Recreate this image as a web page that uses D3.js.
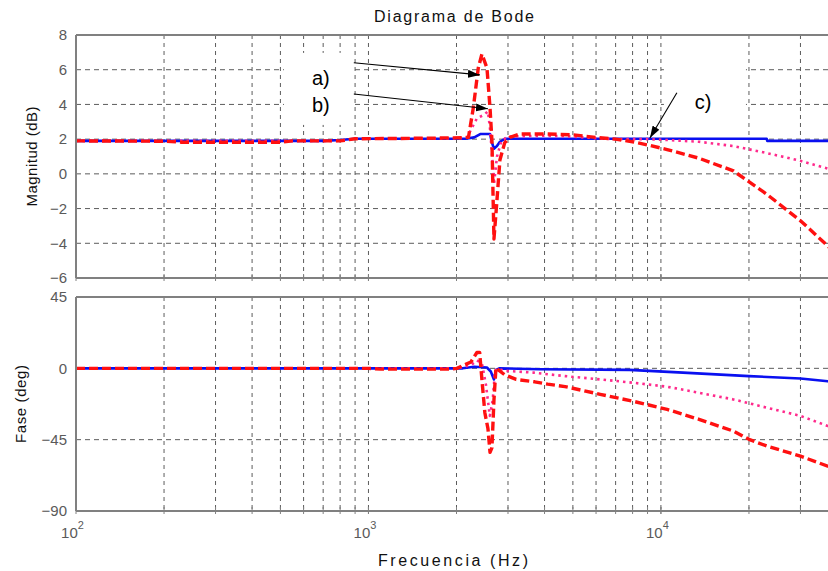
<!DOCTYPE html>
<html>
<head>
<meta charset="utf-8">
<script src="https://cdn.jsdelivr.net/npm/d3@7"></script>
<style>
  html, body { margin: 0; padding: 0; background: #fff; }
  svg { display: block; }
  text { font-family: "Liberation Sans", Arial, Helvetica, sans-serif; }
</style>
</head>
<body>
<svg id="chart" width="828" height="571"></svg>
<script>
// ---------------- DATA ----------------
const titleText = "Diagrama de Bode";
const magTicks = [8, 6, 4, 2, 0, -2, -4, -6];
const phaseTicks = [45, 0, -45, -90];
const decadeTicks = [100, 1000, 10000];
const decadeExp = ["2", "3", "4"];

// Curve a) red dashed - magnitude (Hz, dB)
const redMagF = [100, 200, 230, 500, 550, 800, 900, 1500, 2100, 2197, 2283, 2374, 2443, 2542, 2604, 2644, 2665, 2686, 2751, 2815, 2924, 3047, 3300, 4000, 5000, 6000, 7000, 8000, 9100, 10500, 13500, 17700, 23000, 30000, 37200, 40000];
const redMag  = [1.9, 1.88, 1.82, 1.82, 1.9, 1.9, 2.02, 2.05, 2.08, 2.1, 3.8, 6.1, 6.9, 6.1, 3.8, 1.9, -1.0, -3.75, -1.5, 0.8, 1.8, 2.1, 2.3, 2.3, 2.25, 2.1, 2.0, 1.85, 1.65, 1.4, 0.9, 0.17, -1.17, -2.7, -4.15, -4.7];

// Curve b) pink dotted - magnitude
const pinkMagF = [100, 800, 900, 2100, 2172, 2250, 2350, 2480, 2562, 2604, 2644, 2686, 2751, 2850, 3000, 4000, 5000, 6000, 7000, 9000, 10500, 13500, 17700, 23000, 30000, 37200, 40000];
const pinkMag  = [1.9, 1.9, 2.02, 2.05, 2.1, 2.6, 3.2, 3.4, 3.6, 2.6, 1.2, -0.6, 1.0, 1.9, 2.15, 2.2, 2.15, 2.05, 2.0, 2.0, 1.95, 1.85, 1.6, 1.2, 0.75, 0.3, 0.15];

// Curve c) blue solid - magnitude
const blueMagF = [100, 700, 800, 900, 2150, 2300, 2420, 2604, 2644, 2686, 2750, 2815, 2924, 23000, 23100, 40000];
const blueMag  = [1.9, 1.9, 1.95, 2.02, 2.02, 2.1, 2.3, 2.3, 1.8, 1.45, 1.6, 1.85, 2.02, 2.02, 1.9, 1.9];

// Phase (Hz, deg)
const redPhF = [100, 1000, 1100, 1900, 2007, 2240, 2349, 2400, 2443, 2500, 2562, 2604, 2644, 2686, 2729, 2780, 2920, 3200, 3700, 4100, 4700, 6200, 7970, 10500, 13500, 17700, 20000, 23000, 30000, 37200, 40000];
const redPh  = [0, 0, -0.5, -0.5, 0, 4, 10, 10, -7, -28, -38, -53, -50, -20, 0.5, -1, -4, -7, -8.5, -10, -11.5, -16.4, -20.6, -25.9, -32.2, -39.6, -44.8, -49, -55.4, -61.7, -63.5];

const pinkPhF = [100, 2007, 2240, 2350, 2443, 2520, 2600, 2660, 2708, 2760, 2900, 3660, 4700, 6200, 7970, 10500, 13500, 17700, 23000, 30000, 37200, 40000];
const pinkPh  = [0, 0, 2, 5, 3, -10, -30, -20, -2, 0, -1.5, -2.7, -4.9, -7, -9, -11.6, -15.4, -19.6, -24.8, -30, -36.4, -38.5];

const bluePhF = [100, 2100, 2300, 2540, 2620, 2686, 2730, 2800, 3860, 7800, 11900, 20000, 30000, 37200, 40000];
const bluePh  = [0, 0, 1, 0.5, -2, -7, -1, 0, -0.6, -1, -2.7, -4.9, -6.4, -8.2, -9];

// Annotations (data coordinates: Hz, dB)
const annotLabels = ["a)", "b)", "c)"];
const annotTextF = [641, 641, 13060];
const annotTextV = [5.13, 3.57, 3.74];
const arrowFromF = [891, 891, 11340];
const arrowFromV = [6.4, 4.6, 4.67];
const arrowToF = [2404, 2562, 9170];
const arrowToV = [5.7, 3.75, 2.07];
// white label boxes [f0, f1, dBtop, dBbottom]
const boxF0 = [514, 10240];
const boxF1 = [878, 19530];
const boxTop = [6.97, 6.39];
const boxBot = [2.82, 2.76];

// ---------------- LAYOUT ----------------
const svg = d3.select("#chart");
const W = 828, H = 571;
const left = 76, right = 837;
const magTop = 35, magBot = 278;
const phTop = 297, phBot = 511;

const x = d3.scaleLog().domain([100, 40000]).range([left, right]);
const yMag = d3.scaleLinear().domain([-6, 8]).range([magBot, magTop]);
const yPh = d3.scaleLinear().domain([-90, 45]).range([phBot, phTop]);

const gridColor = "#5c5c5c";
const frameColor = "#808080";
const tickColor = "#5a5a5a";

// minor/major vertical grid values
const vGrid = [];
for (let d = 100; d <= 10000; d *= 10) {
  for (let k = 1; k <= 9; k++) {
    const v = d * k;
    if (v > 100 && v < 40000) vGrid.push(v);
  }
}

svg.append("defs").append("clipPath").attr("id", "clipAll")
  .append("rect").attr("x", left).attr("y", 0).attr("width", right - left).attr("height", H);

svg.select("defs").append("marker")
  .attr("id", "arrowHead").attr("viewBox", "0 0 12 8")
  .attr("refX", 12).attr("refY", 4)
  .attr("markerWidth", 12).attr("markerHeight", 8)
  .attr("markerUnits", "userSpaceOnUse")
  .attr("orient", "auto")
  .append("path").attr("d", "M0,0 L12,4 L0,8 Z").attr("fill", "#000");

function panel(yScale, top, bot, ticks, ylabel, ylabelX, labelLen) {
  const g = svg.append("g");
  // horizontal grid
  g.append("g").selectAll("line").data(ticks).join("line")
    .attr("x1", left).attr("x2", right)
    .attr("y1", d => yScale(d)).attr("y2", d => yScale(d))
    .attr("stroke", gridColor).attr("stroke-width", 1)
    .attr("stroke-dasharray", "5,4");
  // vertical grid
  g.append("g").selectAll("line").data(vGrid).join("line")
    .attr("x1", d => x(d)).attr("x2", d => x(d))
    .attr("y1", top).attr("y2", bot)
    .attr("stroke", gridColor).attr("stroke-width", 1)
    .attr("stroke-dasharray", "4,4");
  // y axis tick labels
  const yAxis = d3.axisLeft(yScale).tickValues(ticks).tickSize(0).tickPadding(9).tickFormat(d3.format("d"));
  const ya = svg.append("g").attr("transform", `translate(${left},0)`).call(yAxis);
  ya.select(".domain").remove();
  ya.selectAll("text").attr("fill", tickColor).attr("font-size", 15)
    .attr("font-family", '"Liberation Sans", Arial, sans-serif');
  // y label
  svg.append("text")
    .attr("transform", `translate(${ylabelX},${(top + bot) / 2}) rotate(-90)`)
    .attr("text-anchor", "middle").attr("font-size", 15).attr("fill", "#111")
    .attr("textLength", labelLen).attr("lengthAdjust", "spacing")
    .text(ylabel);
  return g;
}

panel(yMag, magTop, magBot, magTicks, "Magnitud (dB)", 37, 100);
panel(yPh, phTop, phBot, phaseTicks, "Fase (deg)", 26, 78);

// white label boxes (cover grid)
svg.append("g").selectAll("rect").data(boxF0).join("rect")
  .attr("x", (d, i) => x(d)).attr("width", (d, i) => x(boxF1[i]) - x(d))
  .attr("y", (d, i) => yMag(boxTop[i])).attr("height", (d, i) => yMag(boxBot[i]) - yMag(boxTop[i]))
  .attr("fill", "#fff");

// curves
const lineMag = d3.line().x(d => x(d[0])).y(d => yMag(d[1]));
const linePh = d3.line().x(d => x(d[0])).y(d => yPh(d[1]));
const curves = svg.append("g").attr("clip-path", "url(#clipAll)");

function draw(gen, F, V, color, width, dash) {
  curves.append("path")
    .datum(F.map((f, i) => [f, V[i]]))
    .attr("d", gen)
    .attr("fill", "none").attr("stroke", color).attr("stroke-width", width)
    .attr("stroke-linejoin", "round")
    .attr("stroke-dasharray", dash);
}
const blue = "#0a10f0", pink = "#ff2a8c", red = "#ff1010";
draw(lineMag, blueMagF, blueMag, blue, 2.6, null);
draw(lineMag, pinkMagF, pinkMag, pink, 2.6, "2.5,4");
draw(lineMag, redMagF, redMag, red, 3.4, "9,4");
draw(linePh, bluePhF, bluePh, blue, 2.6, null);
draw(linePh, pinkPhF, pinkPh, pink, 2.6, "2.5,4");
draw(linePh, redPhF, redPh, red, 3.4, "9,4");

// arrows
svg.append("g").selectAll("line").data(annotLabels).join("line")
  .attr("x1", (d, i) => x(arrowFromF[i])).attr("y1", (d, i) => yMag(arrowFromV[i]))
  .attr("x2", (d, i) => x(arrowToF[i])).attr("y2", (d, i) => yMag(arrowToV[i]))
  .attr("stroke", "#000").attr("stroke-width", 1.1)
  .attr("marker-end", "url(#arrowHead)");

// annotation labels
svg.append("g").selectAll("text").data(annotLabels).join("text")
  .attr("x", (d, i) => x(annotTextF[i])).attr("y", (d, i) => yMag(annotTextV[i]))
  .attr("font-size", 20).attr("fill", "#000")
  .text(d => d);

// frames
function frame(top, bot) {
  const f = svg.append("g").attr("fill", "none").attr("stroke", frameColor).attr("stroke-width", 2);
  f.append("line").attr("x1", left).attr("x2", right).attr("y1", top).attr("y2", top);
  f.append("line").attr("x1", left).attr("x2", right).attr("y1", bot).attr("y2", bot);
  f.append("line").attr("x1", left).attr("x2", left).attr("y1", top).attr("y2", bot);
}
frame(magTop, magBot);
frame(phTop, phBot);

// x tick marks (inside) on both panels
[[magTop, magBot], [phTop, phBot]].forEach(([t, b]) => {
  const tg = svg.append("g").attr("stroke", frameColor).attr("stroke-width", 1);
  tg.selectAll("line.b").data(vGrid.concat(decadeTicks)).join("line")
    .attr("x1", d => x(d)).attr("x2", d => x(d))
    .attr("y1", b - 4).attr("y2", b + 3);
});

// x tick labels with superscripts (bottom panel only)
const xa = svg.append("g").attr("transform", `translate(0,${phBot})`)
  .call(d3.axisBottom(x).tickValues(decadeTicks).tickSize(0).tickFormat(""));
xa.select(".domain").remove();
xa.selectAll(".tick").each(function(d, i) {
  const t = d3.select(this).append("text")
    .attr("y", 27).attr("x", -4).attr("text-anchor", "middle")
    .attr("fill", tickColor).attr("font-size", 15)
    .attr("font-family", '"Liberation Sans", Arial, sans-serif');
  t.append("tspan").text("10");
  t.append("tspan").attr("dy", -9).attr("font-size", 11).text(decadeExp[i]);
});

// x label
svg.append("text")
  .attr("x", 453).attr("y", 566).attr("text-anchor", "middle")
  .attr("font-size", 16).attr("fill", "#111")
  .attr("textLength", 150).attr("lengthAdjust", "spacing")
  .text("Frecuencia  (Hz)");

// title
svg.append("text")
  .attr("x", 454).attr("y", 22).attr("text-anchor", "middle")
  .attr("font-size", 16).attr("fill", "#111")
  .attr("textLength", 160).attr("lengthAdjust", "spacing")
  .text(titleText);
</script>
</body>
</html>
